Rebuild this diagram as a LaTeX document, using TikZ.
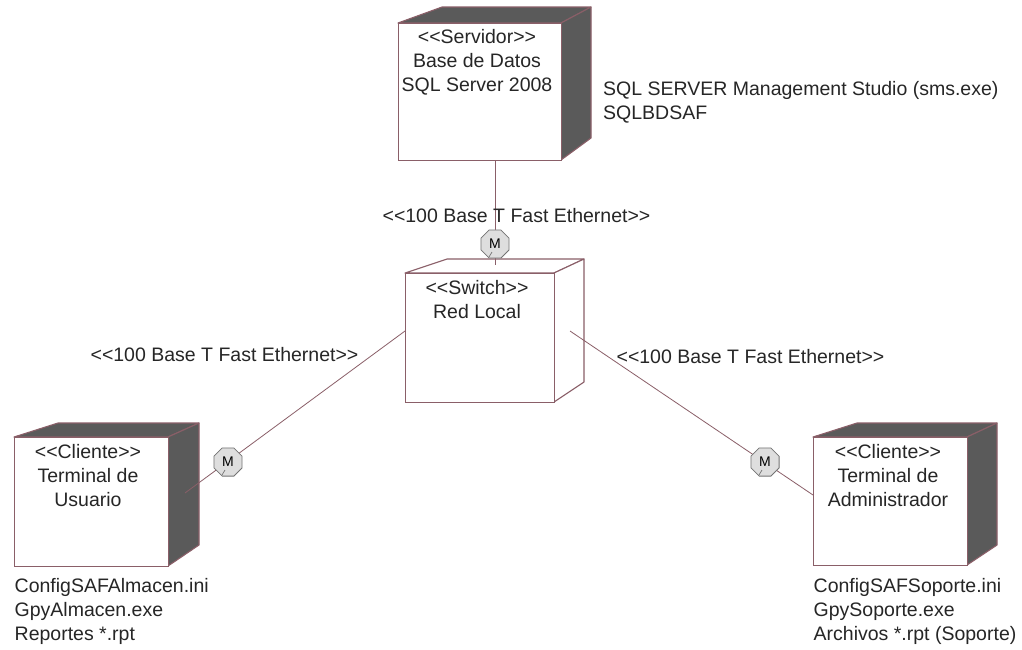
\documentclass[tikz,border=0pt]{standalone}
\usepackage{fontspec}
\setmainfont{Liberation Sans}
\usetikzlibrary{shapes.geometric,calc}
\definecolor{edgec}{HTML}{8A5F68}
\definecolor{sidec}{HTML}{5A5A5A}
\definecolor{mfill}{HTML}{DEDEDE}
\newcommand{\ltlt}{<{}<}
\newcommand{\gtgt}{>{}>}
\tikzset{
  x=1pt,y=-1pt,
  face/.style={draw=edgec,line width=1.1pt,line join=round},
  dark/.style={face,fill=sidec},
  pale/.style={face,fill=white},
  conn/.style={draw=edgec,line width=0.8pt},
  front/.style={draw=edgec,line width=1.1pt,fill=white,inner sep=0pt,minimum width=#1,anchor=north west,rectangle},
  txt/.style={font=\fontsize{19.5}{24}\selectfont,text=black!85,inner sep=0pt,align=center},
  ltxt/.style={txt,align=left,anchor=north west},
  multi/.style={regular polygon,regular polygon sides=8,draw=black!55,fill=mfill,line width=0.8pt,minimum size=30.5pt,inner sep=0pt,font=\fontsize{14}{14}\selectfont},
  tick/.style={draw=black!55,line width=0.7pt},
}
\begin{document}
\begin{tikzpicture}
\useasboundingbox (0,0) rectangle (1022,649);
\fill[white] (0,0) rectangle (1022,649);
% Server
\draw[dark] (398,23) -- (442,7) -- (591,7) -- (561,23) -- cycle;
\draw[dark] (561,23) -- (591,7) -- (591,138) -- (561,160) -- cycle;
\node[front=163pt,minimum height=137pt] (server) at (398,23) {};
% Switch
\draw[pale] (405,273) -- (447,259) -- (584,259) -- (554,273) -- cycle;
\draw[pale] (554,273) -- (584,259) -- (584,382) -- (554,402) -- cycle;
\node[front=149pt,minimum height=129pt] (switch) at (405,273) {};
% Left client
\draw[dark] (14,437) -- (58,423) -- (199,423) -- (168,437) -- cycle;
\draw[dark] (168,437) -- (199,423) -- (199,545) -- (168,566) -- cycle;
\node[front=154pt,minimum height=129pt] (cliA) at (14,437) {};
% Right client
\draw[dark] (813,437) -- (857,423) -- (997,423) -- (967,437) -- cycle;
\draw[dark] (967,437) -- (997,423) -- (997,545) -- (967,565) -- cycle;
\node[front=154pt,minimum height=128pt] (cliB) at (813,437) {};
% connector ends
\coordinate (serverEnd) at (495,160);
\coordinate (switchTop) at (495,265);
\coordinate (switchL) at (405,331);
\coordinate (switchR) at (570,331);
\coordinate (cliAEnd) at (185,493);
\coordinate (cliBEnd) at (813,495);
\draw[conn] (serverEnd) -- (switchTop);
\draw[conn] (switchL) -- (cliAEnd);
\draw[conn] (switchR) -- (cliBEnd);
% multiplicity markers
\node[multi] (m1) at (495,244) {M};
\node[multi] (m2) at (228,462) {M};
\node[multi] (m3) at (765,462) {M};
\foreach \m in {m1,m2,m3}
  \draw[tick] ($(\m.center)+(-6,13)$) -- ($(\m.center)+(-3,8)$);
% texts
\node[txt,anchor=north] (t1) at (477,29) {\ltlt Servidor\gtgt\\Base de Datos\\SQL Server 2008};
\node[ltxt] (t2) at (603,81) {SQL SERVER Management Studio (sms.exe)\\SQLBDSAF};
\node[txt,anchor=center] (t3) at (516.5,216) {\ltlt 100 Base T Fast Ethernet\gtgt};
\node[txt,anchor=north] (t4) at (477,280) {\ltlt Switch\gtgt\\Red Local};
\node[txt,anchor=center] (t5) at (224.5,355) {\ltlt 100 Base T Fast Ethernet\gtgt};
\node[txt,anchor=center] (t6) at (750.5,357) {\ltlt 100 Base T Fast Ethernet\gtgt};
\node[txt,anchor=north] (t7) at (88,444) {\ltlt Cliente\gtgt\\Terminal de\\Usuario};
\node[txt,anchor=north] (t8) at (888,444) {\ltlt Cliente\gtgt\\Terminal de\\Administrador};
\node[ltxt] (t9) at (14.5,578) {ConfigSAFAlmacen.ini\\GpyAlmacen.exe\\Reportes *.rpt};
\node[ltxt] (t10) at (813.5,578) {ConfigSAFSoporte.ini\\GpySoporte.exe\\Archivos *.rpt (Soporte)};
\end{tikzpicture}
\end{document}
